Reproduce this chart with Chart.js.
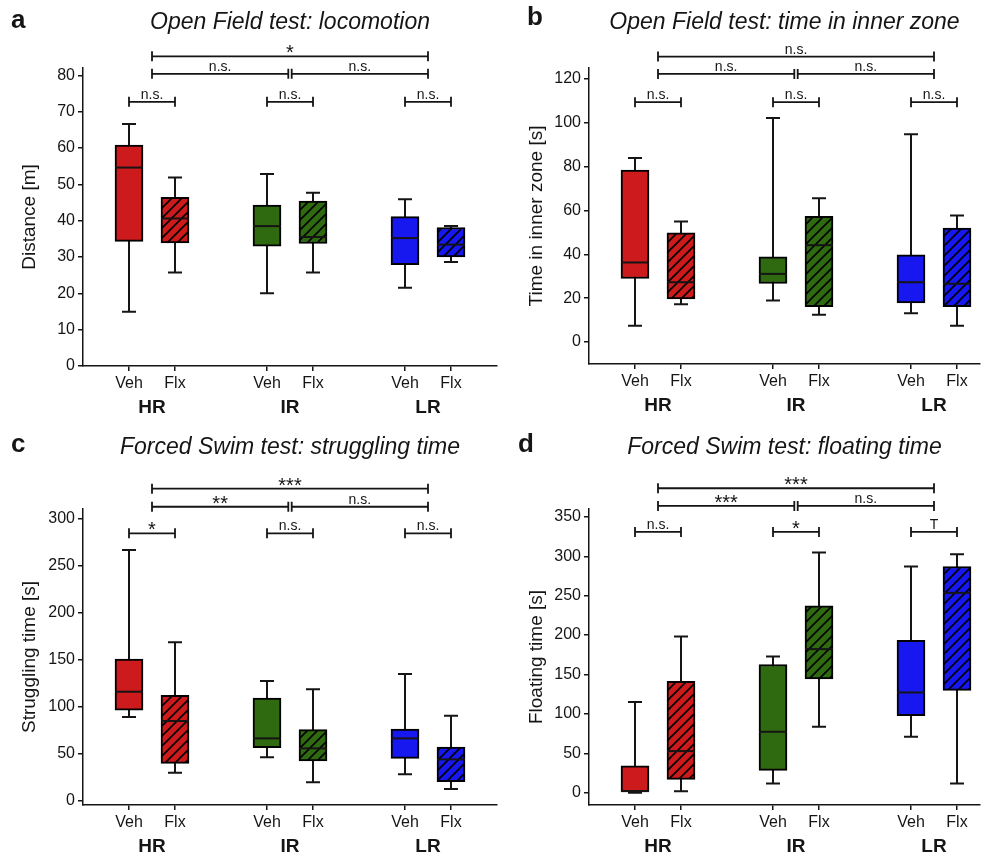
<!DOCTYPE html>
<html>
<head>
<meta charset="utf-8">
<title>Open Field and Forced Swim tests</title>
<script src="https://cdn.jsdelivr.net/npm/chart.js@4.4.0/dist/chart.umd.min.js"></script>
<style>
  body { margin: 0; background: #fff; }
  #wrap { position: relative; width: 984px; height: 856px; }
  #wrap canvas { position: absolute; }
</style>
</head>
<body>
<div id="wrap">
  <canvas id="chart-a" width="500" height="428" style="left:0;top:0"></canvas>
  <canvas id="chart-b" width="484" height="428" style="left:500px;top:0"></canvas>
  <canvas id="chart-c" width="500" height="428" style="left:0;top:428px"></canvas>
  <canvas id="chart-d" width="484" height="428" style="left:500px;top:428px"></canvas>
</div>
<script>
const groups = ['HR', 'IR', 'LR'];
const groupPos = [1.5, 4.5, 7.5];
const treatments = ['Veh', 'Flx', 'Veh', 'Flx', 'Veh', 'Flx'];
const boxPos = [1, 2, 4, 5, 7, 8];
const groupColors = ['#cd1a1c', '#2f6a10', '#1717f0'];

// one row per box: [min, q1, median, q3, max]
const locomotion = [
  [14.9, 34.3, 54.6, 60.8, 66.6],
  [25.7, 33.9, 40.6, 46.4, 51.9],
  [20.0, 33.0, 38.5, 44.3, 52.8],
  [25.7, 33.7, 35.5, 45.4, 47.7],
  [21.5, 27.9, 35.2, 41.1, 45.9],
  [28.6, 30.0, 33.4, 38.1, 38.5]
];
const innerZone = [
  [7.4, 29.0, 36.3, 78.4, 84.0],
  [17.3, 19.7, 27.3, 49.8, 55.0],
  [19.0, 26.7, 31.1, 38.9, 102.2],
  [12.5, 16.1, 44.2, 57.4, 65.6],
  [13.2, 17.9, 27.3, 39.8, 94.8],
  [7.4, 16.1, 26.6, 52.0, 57.7]
];
const struggling = [
  [88.9, 96.3, 115.8, 150.5, 266.4],
  [29.8, 39.7, 84.7, 111.9, 168.3],
  [46.1, 56.3, 66.2, 109.1, 127.2],
  [19.5, 42.2, 55.6, 75.5, 118.3],
  [28.0, 45.0, 66.2, 76.2, 134.6],
  [12.4, 20.2, 43.9, 57.0, 90.3]
];
const floating = [
  [0, 0, 2.1, 34.2, 115.0],
  [1.7, 16.9, 52.8, 141.2, 198.2],
  [11.8, 28.3, 77.3, 162.7, 172.9],
  [83.7, 144.5, 182.2, 237.1, 304.7],
  [71.0, 97.6, 127.2, 193.2, 287.0],
  [11.8, 129.8, 253.6, 287.0, 302.6]
];

// significance: HR pair, IR pair, LR pair, HR-IR, IR-LR, HR-LR
const locomotionSig = ['n.s.', 'n.s.', 'n.s.', 'n.s.', 'n.s.', '*'];
const innerZoneSig = ['n.s.', 'n.s.', 'n.s.', 'n.s.', 'n.s.', 'n.s.'];
const strugglingSig = ['*', 'n.s.', 'n.s.', '**', 'n.s.', '***'];
const floatingSig = ['n.s.', '*', 'T', '***', 'n.s.', '***'];

// bracket heights in data units: pairs, group row, top
const locomotionLevels = [72.7, 80.4, 85.2];
const innerZoneLevels = [109.4, 122.3, 130.2];
const strugglingLevels = [284.1, 312.4, 331.6];
const floatingLevels = [330.9, 363.9, 386.3];

const locomotionTicks = [0, 10, 20, 30, 40, 50, 60, 70, 80];
const innerZoneTicks = [0, 20, 40, 60, 80, 100, 120];
const strugglingTicks = [0, 50, 100, 150, 200, 250, 300];
const floatingTicks = [0, 50, 100, 150, 200, 250, 300, 350];

const ink = '#151515';
Chart.defaults.font.family = "'Liberation Sans', Arial, sans-serif";
Chart.defaults.color = ink;

// diagonal hatch fill for the Flx boxes
function hatch(color) {
  const c = document.createElement('canvas');
  c.width = c.height = 10;
  const g = c.getContext('2d');
  g.fillStyle = color;
  g.fillRect(0, 0, 10, 10);
  g.strokeStyle = '#000';
  g.lineWidth = 1.6;
  g.beginPath();
  g.moveTo(-1, 11); g.lineTo(11, -1);
  g.moveTo(-1, 1); g.lineTo(1, -1);
  g.moveTo(9, 11); g.lineTo(11, 9);
  g.stroke();
  return g.createPattern(c, 'repeat');
}

const boxPlugin = {
  id: 'boxes',
  beforeDatasetsDraw(chart, args, opts) {
    const ctx = chart.ctx, xs = chart.scales.x, ys = chart.scales.y;
    ctx.save();
    ctx.strokeStyle = ink;
    ctx.lineWidth = 2;
    opts.stats.forEach((s, i) => {
      const x = xs.getPixelForValue(boxPos[i]);
      const lo = ys.getPixelForValue(s[0]);
      const hi = ys.getPixelForValue(s[4]);
      ctx.beginPath();
      ctx.moveTo(x, lo); ctx.lineTo(x, hi);
      ctx.moveTo(x - 7, lo); ctx.lineTo(x + 7, lo);
      ctx.moveTo(x - 7, hi); ctx.lineTo(x + 7, hi);
      ctx.stroke();
    });
    ctx.restore();
  },
  afterDatasetsDraw(chart, args, opts) {
    const ctx = chart.ctx, xs = chart.scales.x, ys = chart.scales.y;
    ctx.save();
    ctx.strokeStyle = ink;
    ctx.lineWidth = 2;
    opts.stats.forEach((s, i) => {
      const x = xs.getPixelForValue(boxPos[i]);
      const m = ys.getPixelForValue(s[2]);
      ctx.beginPath();
      ctx.moveTo(x - 14, m); ctx.lineTo(x + 14, m);
      ctx.stroke();
    });
    ctx.restore();
  },
  afterDraw(chart, args, opts) {
    const ctx = chart.ctx, xs = chart.scales.x, ys = chart.scales.y;
    const px = v => xs.getPixelForValue(v);
    const [pairY, rowY, topY] = opts.levels.map(v => ys.getPixelForValue(v));

    function bracket(x1, x2, y, label) {
      ctx.beginPath();
      ctx.moveTo(x1, y); ctx.lineTo(x2, y);
      ctx.moveTo(x1, y - 5); ctx.lineTo(x1, y + 5);
      ctx.moveTo(x2, y - 5); ctx.lineTo(x2, y + 5);
      ctx.stroke();
      const stars = label.indexOf('*') >= 0;
      ctx.font = (stars ? '20px' : '14px') + " 'Liberation Sans', Arial, sans-serif";
      ctx.fillText(label, (x1 + x2) / 2, stars ? y + 3 : y - 3);
    }

    ctx.save();
    ctx.strokeStyle = ink;
    ctx.fillStyle = ink;
    ctx.lineWidth = 1.8;
    ctx.textAlign = 'center';
    ctx.textBaseline = 'alphabetic';
    for (let g = 0; g < 3; g++) {
      bracket(px(boxPos[2 * g]), px(boxPos[2 * g + 1]), pairY, opts.sig[g]);
    }
    const mid = px(groupPos[1]);
    bracket(px(groupPos[0]), mid - 1.7, rowY, opts.sig[3]);
    bracket(mid + 1.7, px(groupPos[2]), rowY, opts.sig[4]);
    bracket(px(groupPos[0]), px(groupPos[2]), topY, opts.sig[5]);

    // panel letter
    ctx.textAlign = 'left';
    ctx.font = "bold 26px 'Liberation Sans', Arial, sans-serif";
    ctx.fillText(opts.letter, opts.letterAt[0], opts.letterAt[1]);
    ctx.restore();
  }
};

function makePanel(canvasId, p) {
  const fills = boxPos.map((x, i) => {
    const col = groupColors[Math.floor(i / 2)];
    return i % 2 ? hatch(col) : col;
  });

  return new Chart(document.getElementById(canvasId), {
    type: 'bar',
    data: {
      datasets: [{
        data: p.stats.map((s, i) => ({ x: boxPos[i], y: [s[1], s[3]] })),
        backgroundColor: fills,
        borderColor: '#000',
        borderWidth: 2,
        borderSkipped: false,
        barThickness: 28
      }]
    },
    options: {
      responsive: false,
      animation: false,
      events: [],
      layout: { padding: { left: 0, right: p.padRight, top: 0, bottom: p.padBottom } },
      plugins: {
        legend: { display: false },
        tooltip: { enabled: false },
        title: {
          display: true,
          text: p.title,
          fullSize: false,
          color: ink,
          font: { size: 23, style: 'italic', weight: 'normal' },
          padding: { top: p.titlePad[0], bottom: p.titlePad[1] }
        },
        boxes: { stats: p.stats, sig: p.sig, levels: p.levels, letter: p.letter, letterAt: p.letterAt }
      },
      scales: {
        x: {
          type: 'linear',
          min: 0,
          max: p.xMax,
          offset: false,
          afterBuildTicks: s => { s.ticks = boxPos.map(v => ({ value: v })); },
          afterFit: s => { s.height = 26; },
          ticks: {
            callback: (v, i) => treatments[i],
            font: { size: 16 },
            color: ink,
            padding: 3,
            maxRotation: 0,
            autoSkip: false
          },
          grid: { drawOnChartArea: false, offset: false, tickLength: 5, color: ink, lineWidth: 1.5 },
          border: { color: ink, width: 1.5 }
        },
        groups: {
          type: 'linear',
          position: 'bottom',
          weight: 1,
          min: 0,
          max: p.xMax,
          offset: false,
          afterBuildTicks: s => { s.ticks = groupPos.map(v => ({ value: v })); },
          afterFit: s => { s.height = p.groupHeight; },
          ticks: {
            callback: (v, i) => groups[i],
            font: { size: 19, weight: 'bold' },
            color: ink,
            padding: -4,
            maxRotation: 0,
            autoSkip: false
          },
          grid: { display: false },
          border: { display: false }
        },
        y: {
          min: p.yRange[0],
          max: p.yRange[1],
          afterBuildTicks: s => { s.ticks = p.ticks.map(v => ({ value: v })); },
          afterFit: s => { s.width = p.yWidth; },
          ticks: { font: { size: 16 }, color: ink, padding: 3 },
          grid: { drawOnChartArea: false, tickLength: 5, color: ink, lineWidth: 1.5 },
          border: { color: ink, width: 1.5 },
          title: {
            display: true,
            text: p.yLabel,
            color: ink,
            font: { size: 19 },
            padding: { top: p.yTitlePad, bottom: 0 }
          }
        }
      }
    },
    plugins: [boxPlugin]
  });
}

makePanel('chart-a', {
  title: 'Open Field test: locomotion', yLabel: 'Distance [m]', letter: 'a', letterAt: [11, 28],
  stats: locomotion, sig: locomotionSig, levels: locomotionLevels, ticks: locomotionTicks,
  yRange: [0, 82], xMax: 9, yWidth: 83, yTitlePad: 18.6,
  titlePad: [9.2, 31.2], padRight: 3, padBottom: 6, groupHeight: 30
});
makePanel('chart-b', {
  title: 'Open Field test: time in inner zone', yLabel: 'Time in inner zone [s]', letter: 'b', letterAt: [27, 25],
  stats: innerZone, sig: innerZoneSig, levels: innerZoneLevels, ticks: innerZoneTicks,
  yRange: [-10, 125], xMax: 8.5, yWidth: 89, yTitlePad: 25.6,
  titlePad: [9.2, 31.2], padRight: 4, padBottom: 8, groupHeight: 30
});
makePanel('chart-c', {
  title: 'Forced Swim test: struggling time', yLabel: 'Struggling time [s]', letter: 'c', letterAt: [11, 24],
  stats: struggling, sig: strugglingSig, levels: strugglingLevels, ticks: strugglingTicks,
  yRange: [-4.6, 310], xMax: 9, yWidth: 83, yTitlePad: 18.6,
  titlePad: [6.2, 47.2], padRight: 3, padBottom: 0, groupHeight: 25
});
makePanel('chart-d', {
  title: 'Forced Swim test: floating time', yLabel: 'Floating time [s]', letter: 'd', letterAt: [18, 24],
  stats: floating, sig: floatingSig, levels: floatingLevels, ticks: floatingTicks,
  yRange: [-15.6, 360], xMax: 8.5, yWidth: 89, yTitlePad: 25.6,
  titlePad: [6.2, 47.2], padRight: 4, padBottom: 0, groupHeight: 25
});
</script>
</body>
</html>
